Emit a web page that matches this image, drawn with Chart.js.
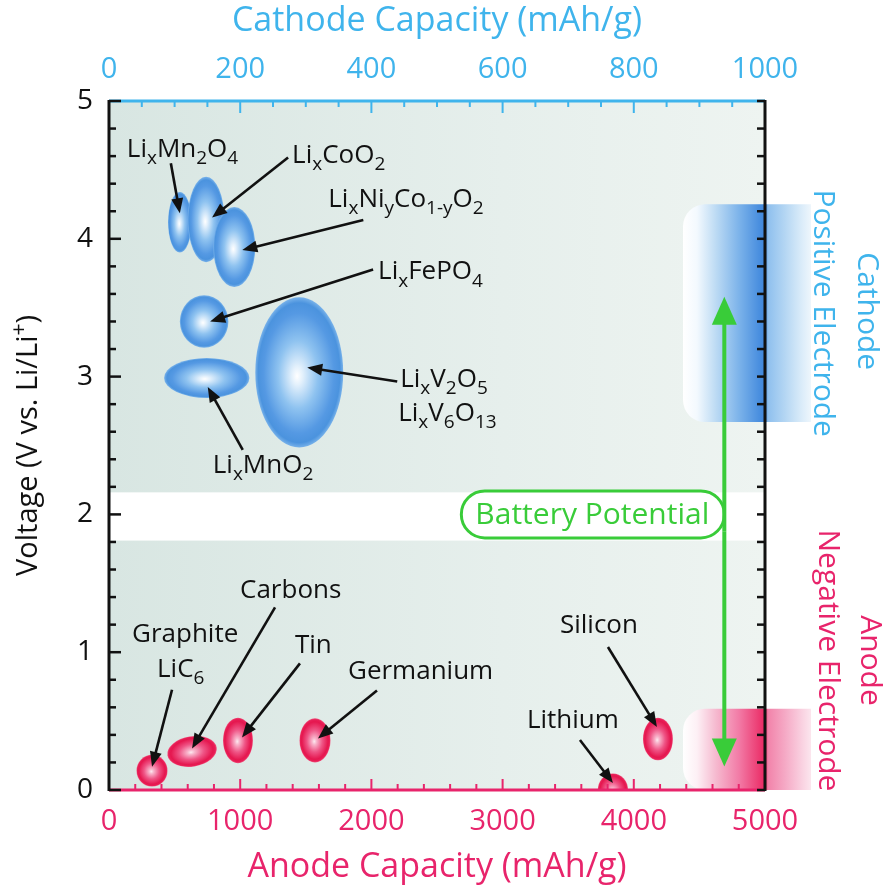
<!DOCTYPE html>
<html><head><meta charset="utf-8">
<script src="https://cdn.jsdelivr.net/npm/chart.js@4.4.1/dist/chart.umd.min.js"></script>
<style>html,body{margin:0;padding:0;background:#fff;}canvas{display:block}</style>
</head><body>
<canvas id="c" width="887" height="893"></canvas>
<script>
// ---------------- DATA ----------------
// Cathode materials (top axis, mAh/g) vs voltage (V vs Li/Li+)
const cathodeMaterials = ['Li_{x}Mn_{2}O_{4}', 'Li_{x}CoO_{2}', 'Li_{x}Ni_{y}Co_{1-y}O_{2}', 'Li_{x}FePO_{4}', 'Li_{x}MnO_{2}', 'Li_{x}V_{2}O_{5}|Li_{x}V_{6}O_{13}'];
const cathodeCapacity = [108, 148, 191, 145, 149, 290];
const cathodeVoltage = [4.12, 4.14, 3.94, 3.40, 2.99, 3.03];
const cathodeCapacityRange = [18, 28, 32, 37, 65, 67];       // +/- mAh/g
const cathodeVoltageRange = [0.22, 0.31, 0.29, 0.19, 0.145, 0.545]; // +/- V

// Anode materials (bottom axis, mAh/g) vs voltage
const anodeMaterials = ['Graphite|LiC_{6}', 'Carbons', 'Tin', 'Germanium', 'Lithium', 'Silicon'];
const anodeCapacity = [328, 633, 983, 1570, 3841, 4184];
const anodeVoltage = [0.14, 0.28, 0.36, 0.36, 0.0, 0.37];
const anodeCapacityRange = [118, 190, 114, 118, 115, 114];
const anodeVoltageRange = [0.115, 0.11, 0.165, 0.16, 0.12, 0.155];

// Electrode voltage windows and battery potential arrow
const cathodeWindow = [2.67, 4.25];
const anodeWindow = [0, 0.59];
const windowStartCapacity = 4375;           // anode mAh/g where shaded columns begin
const batteryPotentialCapacity = 4690;      // anode mAh/g of the double arrow
const batteryPotentialVoltage = [0.17, 3.58];
const separatorBand = [1.81, 2.16];          // white gap between anode & cathode zones

// Tick labels
const anodeTicks = [0, 1000, 2000, 3000, 4000, 5000];
const cathodeTicks = [0, 200, 400, 600, 800, 1000];
const voltageTicks = [0, 1, 2, 3, 4, 5];

// ---------------- STYLE / LAYOUT ----------------
const FONT = '"Open Sans", "Noto Sans", sans-serif';
const BLUE = '#3fb4ec';
const PINK = '#e8246b';
const GREEN = '#39cc39';
const INK = '#111111';
// label layout: offsets (px) from the mark centre: label anchor(s), arrow tail, arrow tip
const cathodeNotes = [
  {lab: [[-53, -65]], tail: [-9, -59], tip: [0, -9]},
  {lab: [[86, -57]], tail: [82, -62], tip: [6, -2]},
  {lab: [[94, -40]], tail: [129, -27], tip: [8, 3]},
  {lab: [[174, -42]], tail: [169, -52], tip: [6, 0]},
  {lab: [[6, 95]], tail: [36, 72], tip: [1, 9]},
  {lab: [[101, 15], [99, 49]], tail: [98, 9], tip: [8, -5]}
];
const anodeNotes = [
  {lab: [[-20, -129], [5, -94]], tail: [20, -81], tip: [0, -4]},
  {lab: [[48, -153]], tail: [83, -144], tip: [0, -3]},
  {lab: [[57, -87]], tail: [62, -77], tip: [4, -3]},
  {lab: [[33, -61]], tail: [62, -50], tip: [3, -2]},
  {lab: [[-86, -62]], tail: [-33, -50], tip: [0, -7]},
  {lab: [[-98, -106]], tail: [-50, -92], tip: [-1, -12]}
];
const anodeTilt = [0, -0.16, 0, 0, 0, 0];

const blueStops = [[0, '#ffffff'], [0.12, '#e4f1fc'], [0.45, '#8fc3f0'], [0.8, '#5599e3'], [0.93, '#4b93de'], [1, '#78b2ea']];
const pinkStops = [[0, '#fde9f0'], [0.15, '#f8b4cb'], [0.5, '#ef5586'], [0.85, '#e5174f'], [0.94, '#e81f57'], [1, '#f0557f']];

function richText(ctx, str, x, y, size, color, align) {
  const parts = [];
  const re = /(_|\^)\{([^}]*)\}/g;
  let last = 0, m;
  while ((m = re.exec(str))) {
    if (m.index > last) parts.push({t: str.slice(last, m.index), k: 'n'});
    parts.push({t: m[2], k: m[1] === '_' ? 'sub' : 'sup'});
    last = re.lastIndex;
  }
  if (last < str.length) parts.push({t: str.slice(last), k: 'n'});
  const fontFor = k => (k === 'n' ? size : Math.round(size * 0.74)) + 'px ' + FONT;
  let total = 0;
  parts.forEach(p => { ctx.font = fontFor(p.k); p.w = ctx.measureText(p.t).width; total += p.w; });
  let cx = align === 'center' ? x - total / 2 : x;
  ctx.fillStyle = color; ctx.textBaseline = 'alphabetic'; ctx.textAlign = 'left';
  parts.forEach(p => {
    ctx.font = fontFor(p.k);
    const dy = p.k === 'sub' ? size * 0.27 : (p.k === 'sup' ? -size * 0.38 : 0);
    ctx.fillText(p.t, cx, y + dy);
    cx += p.w;
  });
}

function arrow(ctx, x1, y1, x2, y2, color, lw, hl, hw) {
  const ang = Math.atan2(y2 - y1, x2 - x1);
  const bx = x2 - hl * Math.cos(ang), by = y2 - hl * Math.sin(ang);
  ctx.strokeStyle = color; ctx.lineWidth = lw; ctx.lineCap = 'butt';
  ctx.beginPath(); ctx.moveTo(x1, y1); ctx.lineTo(bx + Math.cos(ang) * 2, by + Math.sin(ang) * 2); ctx.stroke();
  ctx.fillStyle = color;
  ctx.beginPath();
  ctx.moveTo(x2, y2);
  ctx.lineTo(bx + hw * Math.sin(ang), by - hw * Math.cos(ang));
  ctx.lineTo(bx - hw * Math.sin(ang), by + hw * Math.cos(ang));
  ctx.closePath(); ctx.fill();
}

function ellipse(ctx, cx, cy, rx, ry, stops, tilt) {
  ctx.save();
  ctx.translate(cx, cy);
  ctx.rotate(tilt || 0);
  ctx.scale(rx, ry);
  const g = ctx.createRadialGradient(-0.05, 0.05, 0, 0, 0, 1);
  stops.forEach(s => g.addColorStop(s[0], s[1]));
  ctx.fillStyle = g;
  ctx.beginPath(); ctx.arc(0, 0, 1, 0, Math.PI * 2); ctx.fill();
  ctx.restore();
}

function band(ctx, x0, xEnd, y0, y1, stops) {
  const g = ctx.createLinearGradient(x0, 0, xEnd, 0);
  stops.forEach(s => g.addColorStop(s[0], s[1]));
  ctx.fillStyle = g;
  ctx.beginPath();
  ctx.roundRect(x0, y0, xEnd - x0, y1 - y0, [22, 0, 0, 22]);
  ctx.fill();
}

const decor = {
  id: 'decor',
  beforeDatasetsDraw(chart) {
    const {ctx, chartArea: a, scales} = chart;
    const y = scales.y, x = scales.x;
    ctx.save();
    const bg = ctx.createLinearGradient(a.left, 0, a.right, 0);
    bg.addColorStop(0, '#d8e6e2'); bg.addColorStop(0.6, '#e6efec'); bg.addColorStop(1, '#eef4f1');
    ctx.fillStyle = bg;
    ctx.fillRect(a.left, a.top, a.right - a.left, a.bottom - a.top);
    // white separator band
    ctx.fillStyle = '#ffffff';
    const sy0 = y.getPixelForValue(separatorBand[1]), sy1 = y.getPixelForValue(separatorBand[0]);
    ctx.fillRect(a.left, sy0, a.right - a.left, sy1 - sy0);
    // electrode windows
    const wx = x.getPixelForValue(windowStartCapacity);
    const xEnd = a.right + 46;
    const rel = v => (v - wx) / (xEnd - wx);
    const cStops = [[0, '#ffffff'], [rel(wx + 14), '#f3f9fe'], [rel(wx + 32), '#bfdcf4'], [rel(a.right - 26), '#7cb3ea'], [rel(a.right - 6), '#4a8fdf'], [rel(a.right), '#3f86db'], [rel(a.right + 3), '#8fc0ee'], [rel(a.right + 20), '#b4d6f3'], [rel(a.right + 36), '#d9ebf9'], [1, '#eef6fc']];
    const aStops = [[0, '#ffffff'], [rel(wx + 14), '#fdf0f5'], [rel(wx + 32), '#f6bcd1'], [rel(a.right - 26), '#f27ba6'], [rel(a.right - 6), '#ec3b72'], [rel(a.right), '#e92863'], [rel(a.right + 3), '#f283aa'], [rel(a.right + 20), '#f5a9c5'], [rel(a.right + 36), '#f9cfdf'], [1, '#fce6ee']];
    band(ctx, wx, xEnd, y.getPixelForValue(cathodeWindow[1]), y.getPixelForValue(cathodeWindow[0]), cStops);
    band(ctx, wx, xEnd, y.getPixelForValue(anodeWindow[1]), y.getPixelForValue(anodeWindow[0]), aStops);
    ctx.restore();
  },
  afterDatasetsDraw(chart) {
    const {ctx, chartArea: a, scales} = chart;
    const y = scales.y, xb = scales.x, xt = scales.xTop;
    ctx.save();
    // ---- ellipses ----
    ctx.save();
    ctx.beginPath(); ctx.rect(a.left, a.top, a.right - a.left, a.bottom - a.top); ctx.clip();
    const cMeta = chart.getDatasetMeta(0), aMeta = chart.getDatasetMeta(1);
    cMeta.data.forEach((pt, i) => {
      const rx = Math.abs(xt.getPixelForValue(cathodeCapacity[i] + cathodeCapacityRange[i]) - pt.x);
      const ry = Math.abs(y.getPixelForValue(cathodeVoltage[i] + cathodeVoltageRange[i]) - pt.y);
      ellipse(ctx, pt.x, pt.y, rx, ry, blueStops, 0);
    });
    aMeta.data.forEach((pt, i) => {
      const rx = Math.abs(xb.getPixelForValue(anodeCapacity[i] + anodeCapacityRange[i]) - pt.x);
      const ry = Math.abs(y.getPixelForValue(anodeVoltage[i] + anodeVoltageRange[i]) - pt.y);
      ellipse(ctx, pt.x, pt.y, rx, ry, pinkStops, anodeTilt[i]);
    });
    ctx.restore();

    // ---- labels + arrows ----
    const annotate = (meta, names, notes) => {
      meta.data.forEach((pt, i) => {
        const n = notes[i];
        arrow(ctx, pt.x + n.tail[0], pt.y + n.tail[1], pt.x + n.tip[0], pt.y + n.tip[1], INK, 2.6, 15, 6);
        names[i].split('|').forEach((s, k) => richText(ctx, s, pt.x + n.lab[k][0], pt.y + n.lab[k][1], 26, INK, 'left'));
      });
    };
    annotate(cMeta, cathodeMaterials, cathodeNotes);
    annotate(aMeta, anodeMaterials, anodeNotes);

    // ---- battery potential ----
    const gx = xb.getPixelForValue(batteryPotentialCapacity);
    const gy0 = y.getPixelForValue(batteryPotentialVoltage[0]);
    const gy1 = y.getPixelForValue(batteryPotentialVoltage[1]);
    const by = y.getPixelForValue(2.0);
    ctx.fillStyle = '#ffffff'; ctx.strokeStyle = GREEN; ctx.lineWidth = 3;
    ctx.beginPath(); ctx.roundRect(gx - 263, by - 23.5, 263, 47, 23.5); ctx.fill(); ctx.stroke();
    ctx.font = '30px ' + FONT; ctx.fillStyle = GREEN; ctx.textAlign = 'center'; ctx.textBaseline = 'middle';
    ctx.fillText('Battery Potential', gx - 132, by + 1);
    const mid = (gy0 + gy1) / 2;
    arrow(ctx, gx, mid, gx, gy1, GREEN, 4, 28, 12.5);
    arrow(ctx, gx, mid, gx, gy0, GREEN, 4, 28, 12.5);

    // ---- axes lines and inward ticks ----
    ctx.lineCap = 'butt';
    // top (cathode, blue)
    ctx.strokeStyle = BLUE; ctx.lineWidth = 2;
    for (let v = 0; v <= 1000; v += 50) {
      const px = xt.getPixelForValue(v), len = v % 200 === 0 ? 12 : 6;
      ctx.beginPath(); ctx.moveTo(px, a.top); ctx.lineTo(px, a.top + len); ctx.stroke();
    }
    ctx.lineWidth = 3;
    ctx.beginPath(); ctx.moveTo(a.left, a.top); ctx.lineTo(a.right, a.top); ctx.stroke();
    // bottom (anode, pink)
    ctx.strokeStyle = PINK; ctx.lineWidth = 2;
    for (let v = 0; v <= 5000; v += 200) {
      const px = xb.getPixelForValue(v), len = v % 1000 === 0 ? 11 : 6;
      ctx.beginPath(); ctx.moveTo(px, a.bottom); ctx.lineTo(px, a.bottom - len); ctx.stroke();
    }
    ctx.lineWidth = 3;
    ctx.beginPath(); ctx.moveTo(a.left, a.bottom); ctx.lineTo(a.right, a.bottom); ctx.stroke();
    // left & right (black)
    ctx.strokeStyle = INK; ctx.lineWidth = 2.5;
    for (let k = 0; k <= 25; k++) {
      const v = k / 5, py = y.getPixelForValue(v), len = k % 5 === 0 ? 12 : 7;
      ctx.beginPath(); ctx.moveTo(a.left, py); ctx.lineTo(a.left + len, py); ctx.stroke();
      ctx.beginPath(); ctx.moveTo(a.right, py); ctx.lineTo(a.right - 8, py); ctx.stroke();
    }
    ctx.lineWidth = 3;
    ctx.beginPath(); ctx.moveTo(a.left, a.top - 1); ctx.lineTo(a.left, a.bottom + 1); ctx.stroke();
    ctx.beginPath(); ctx.moveTo(a.right, a.top - 1); ctx.lineTo(a.right, a.bottom + 1); ctx.stroke();

    // ---- side labels (rotated) ----
    const side = (txt, px, py, color) => {
      ctx.save(); ctx.translate(px, py); ctx.rotate(Math.PI / 2);
      ctx.font = '30px ' + FONT; ctx.fillStyle = color; ctx.textAlign = 'center'; ctx.textBaseline = 'middle';
      ctx.fillText(txt, 0, 0); ctx.restore();
    };
    const cMid = y.getPixelForValue((cathodeWindow[0] + cathodeWindow[1]) / 2);
    side('Cathode', a.right + 102, cMid - 2, BLUE);
    side('Positive Electrode', a.right + 58, cMid, BLUE);
    const aMid = y.getPixelForValue(0.94);
    side('Anode', a.right + 105, aMid, PINK);
    side('Negative Electrode', a.right + 63, aMid, PINK);

    // ---- y-axis title with superscript ----
    ctx.save();
    ctx.translate(27, (a.top + a.bottom) / 2);
    ctx.rotate(-Math.PI / 2);
    richText(ctx, 'Voltage (V vs. Li/Li^{+})', 0, 10, 29, INK, 'center');
    ctx.restore();
    ctx.restore();
  }
};

const fixedTicks = arr => scale => { scale.ticks = arr.map(v => ({value: v})); };

new Chart(document.getElementById('c'), {
  type: 'scatter',
  data: {
    datasets: [
      {label: 'Cathode', xAxisID: 'xTop', yAxisID: 'y', pointRadius: 0, pointHoverRadius: 0,
       data: cathodeCapacity.map((c, i) => ({x: c, y: cathodeVoltage[i]}))},
      {label: 'Anode', xAxisID: 'x', yAxisID: 'y', pointRadius: 0, pointHoverRadius: 0,
       data: anodeCapacity.map((c, i) => ({x: c, y: anodeVoltage[i]}))}
    ]
  },
  options: {
    responsive: false, animation: false, devicePixelRatio: 1, events: [],
    layout: {padding: 0},
    plugins: {legend: {display: false}, tooltip: {enabled: false}},
    scales: {
      x: {
        type: 'linear', position: 'bottom', min: 0, max: 5000,
        afterBuildTicks: fixedTicks(anodeTicks),
        grid: {display: false, drawTicks: false}, border: {display: false},
        ticks: {color: PINK, font: {family: FONT, size: 29}, padding: 14, maxRotation: 0, autoSkip: false, callback: v => String(v)},
        title: {display: true, text: 'Anode Capacity (mAh/g)', color: PINK, font: {family: FONT, size: 34}, padding: {top: 0, bottom: 5}},
        afterFit: s => { s.height = 103; }
      },
      xTop: {
        type: 'linear', position: 'top', min: 0, max: 1000,
        afterBuildTicks: fixedTicks(cathodeTicks),
        grid: {display: false, drawTicks: false}, border: {display: false},
        ticks: {color: BLUE, font: {family: FONT, size: 29}, padding: 14, maxRotation: 0, autoSkip: false, callback: v => String(v)},
        title: {display: true, text: 'Cathode Capacity (mAh/g)', color: BLUE, font: {family: FONT, size: 34}, padding: {top: 1, bottom: 0}},
        afterFit: s => { s.height = 101; }
      },
      y: {
        type: 'linear', position: 'left', min: 0, max: 5,
        afterBuildTicks: fixedTicks(voltageTicks),
        grid: {display: false, drawTicks: false}, border: {display: false},
        ticks: {color: INK, font: {family: FONT, size: 28}, padding: 16, callback: v => String(v)},
        afterFit: s => { s.width = 109; }
      },
      yR: {
        type: 'linear', position: 'right', min: 0, max: 5,
        grid: {display: false, drawTicks: false}, border: {display: false},
        ticks: {display: false},
        afterFit: s => { s.width = 122; }
      }
    }
  },
  plugins: [decor]
});
</script>
</body></html>
